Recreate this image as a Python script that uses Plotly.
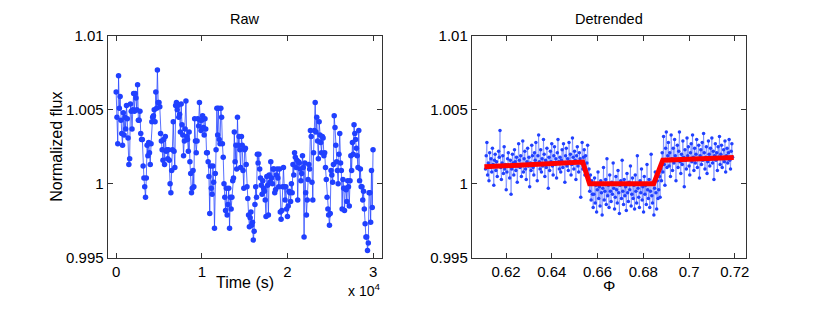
import numpy as np
import plotly.graph_objects as go

# ---------------- data ----------------
raw_flux = [
    1.0062, 1.0045, 1.0027, 1.0073, 1.0051, 1.0059, 1.0043, 1.0034, 1.0026, 1.0048,
    1.0033, 1.0045, 1.0037, 1.0053, 1.0044, 1.0031, 1.0013, 1.0017, 1.0054, 1.0049,
    1.0037, 1.0050, 1.0061, 1.0049, 1.0061, 1.0058, 1.0050, 1.0067, 1.0043, 1.0043,
    1.0049, 1.0034, 1.0030, 1.0030, 1.0012, 1.0004, 0.9998, 0.9991, 1.0004, 1.0026,
    1.0019, 1.0028, 1.0021, 1.0013, 1.0027, 1.0042, 1.0045, 1.0046, 1.0050, 1.0042,
    1.0062, 1.0051, 1.0077, 1.0055, 1.0055, 1.0052, 1.0034, 1.0029, 1.0023, 1.0016,
    1.0030, 1.0013, 1.0032, 1.0022, 1.0023, 1.0017, 1.0023, 1.0016, 1.0000, 0.9994,
    1.0009, 1.0023, 1.0042, 1.0022, 1.0011, 1.0053, 1.0055, 1.0050, 1.0053, 1.0045,
    1.0047, 1.0035, 1.0054, 1.0040, 1.0033, 1.0019, 1.0029, 1.0037, 1.0056, 1.0032,
    1.0030, 1.0022, 1.0035, 1.0015, 1.0007, 0.9994, 0.9997, 1.0009, 0.9998, 1.0044,
    1.0029, 1.0021, 1.0029, 1.0044, 1.0039, 1.0055, 1.0043, 1.0036, 1.0043, 1.0046,
    1.0038, 1.0033, 1.0044, 1.0037, 1.0021, 1.0021, 1.0015, 1.0005, 0.9980, 1.0012,
    0.9997, 0.9993, 1.0012, 1.0001, 0.9970, 1.0007, 1.0023, 1.0051, 1.0033, 1.0051,
    1.0030, 1.0027, 1.0051, 1.0045, 1.0027, 1.0018, 1.0000, 0.9991, 0.9982, 0.9997,
    0.9979, 0.9986, 0.9997, 0.9970, 0.9991, 0.9983, 0.9991, 1.0002, 1.0004, 1.0035,
    1.0015, 1.0026, 1.0010, 1.0045, 1.0026, 1.0032, 1.0023, 1.0011, 1.0032, 1.0026,
    1.0009, 0.9997, 1.0023, 1.0024, 1.0013, 0.9998, 0.9990, 0.9979, 0.9971, 0.9977,
    0.9981, 0.9972, 0.9974, 0.9962, 0.9968, 0.9986, 0.9998, 0.9991, 1.0020, 1.0014,
    1.0020, 1.0010, 1.0004, 0.9999, 0.9993, 1.0002, 0.9997, 0.9995, 0.9989, 0.9978,
    1.0005, 0.9999, 0.9979, 1.0006, 1.0001, 1.0015, 1.0004, 1.0000, 1.0010, 1.0010,
    0.9994, 0.9996, 1.0006, 1.0010, 1.0004, 0.9998, 1.0010, 0.9981, 0.9976, 0.9982,
    0.9998, 1.0011, 0.9998, 0.9989, 0.9998, 0.9983, 0.9978, 0.9985, 0.9995, 0.9994,
    0.9988, 1.0000, 0.9994, 1.0013, 1.0006, 1.0021, 1.0018, 1.0011, 1.0016, 0.9989,
    1.0015, 1.0014, 1.0010, 1.0002, 1.0007, 1.0019, 1.0011, 0.9964, 1.0014, 0.9994,
    0.9979, 0.9989, 1.0003, 1.0013, 1.0010, 1.0036, 1.0032, 1.0001, 0.9989, 1.0021,
    1.0036, 1.0055, 1.0035, 1.0045, 1.0029, 1.0017, 1.0042, 1.0033, 1.0028, 1.0021,
    1.0032, 1.0031, 1.0019, 1.0021, 1.0011, 1.0003, 0.9991, 0.9983, 0.9979, 0.9972,
    0.9980, 1.0009, 1.0006, 1.0001, 1.0013, 1.0046, 1.0038, 1.0026, 1.0015, 1.0009,
    1.0000, 1.0020, 1.0034, 1.0014, 1.0009, 0.9983, 1.0003, 0.9997, 0.9982, 0.9997,
    0.9996, 0.9988, 1.0002, 0.9998, 0.9985, 1.0002, 1.0019, 1.0009, 1.0028, 1.0020,
    1.0040, 1.0034, 1.0030, 1.0024, 1.0019, 1.0011, 1.0036, 1.0002, 1.0010, 0.9998,
    0.9998, 0.9989, 0.9995, 0.9983, 0.9973, 0.9964, 0.9964, 0.9955, 0.9960, 0.9994,
    0.9994, 0.9974, 1.0009, 0.9984, 1.0023,
]
raw_time = np.linspace(0, 30000, len(raw_flux))  # uniform cadence, seconds

det_flux = [
    # out of transit (before)
    1.0010, 1.0019, 1.0028, 1.0006, 1.0014, 1.0002, 1.0021, 1.0011, 1.0017, 1.0008,
    1.0024, 1.0013, 0.9999, 1.0016, 1.0020, 1.0009, 1.0015, 1.0005, 1.0012, 1.0022,
    1.0018, 1.0036, 1.0011, 1.0003, 1.0014, 1.0019, 1.0007, 1.0025, 1.0010, 1.0013,
    0.9996, 1.0008, 1.0017, 1.0021, 1.0012, 1.0004, 1.0016, 0.9993, 1.0010, 1.0020,
    1.0014, 1.0006, 1.0023, 1.0015, 1.0009, 1.0018, 1.0001, 1.0012, 1.0027, 1.0016,
    1.0011, 1.0019, 1.0005, 1.0013, 1.0029, 1.0008, 1.0017, 1.0022, 1.0010, 1.0003,
    1.0015, 1.0024, 1.0012, 1.0018, 0.9998, 1.0014, 1.0009, 1.0026, 1.0019, 1.0011,
    1.0006, 1.0021, 1.0016, 1.0028, 1.0013, 1.0002, 1.0019, 1.0033, 1.0015, 1.0010,
    1.0023, 1.0008, 1.0017, 1.0012, 1.0030, 1.0020, 1.0005, 1.0016, 1.0011, 1.0024,
    1.0014, 0.9997, 1.0018, 1.0009, 1.0022, 1.0015, 1.0027, 1.0012, 1.0006, 1.0019,
    1.0025, 1.0013, 1.0017, 1.0004, 1.0021, 1.0030, 1.0015, 1.0010, 1.0018, 1.0008,
    1.0016, 1.0023, 1.0011, 1.0027, 1.0014, 1.0001, 1.0019, 1.0024, 1.0012, 1.0017,
    1.0009, 1.0028, 1.0015, 1.0020, 1.0006, 1.0013, 1.0031, 1.0018, 1.0010, 1.0022,
    1.0016, 1.0003, 1.0019, 1.0025, 1.0012, 1.0008, 1.0021, 1.0017, 0.9991, 1.0014,
    1.0028, 1.0010, 1.0018, 1.0023, 1.0006,
    # ingress
    1.0019, 1.0008, 1.0014, 1.0026, 1.0003, 1.0010, 0.9995, 1.0006, 0.9989, 1.0002,
    0.9993, 0.9984,
    # in transit
    0.9993, 1.0004, 0.9987, 0.9999, 0.9981, 0.9996, 1.0008, 0.9990, 0.9998, 0.9985,
    1.0002, 0.9994, 0.9979, 0.9997, 1.0011, 0.9989, 0.9995, 1.0003, 0.9986, 1.0017,
    0.9992, 0.9999, 0.9984, 1.0006, 0.9995, 0.9988, 1.0001, 0.9993, 1.0014, 0.9997,
    0.9983, 0.9991, 1.0005, 0.9996, 0.9987, 1.0009, 0.9994, 0.9980, 0.9999, 1.0002,
    0.9990, 1.0016, 0.9995, 0.9986, 1.0003, 0.9992, 0.9998, 0.9982, 1.0007, 0.9994,
    0.9988, 1.0001, 0.9996, 1.0012, 0.9985, 0.9993, 1.0004, 0.9990, 0.9999, 0.9983,
    1.0006, 0.9995, 0.9987, 1.0019, 0.9997, 0.9991, 0.9984, 1.0002, 0.9994, 1.0010,
    0.9989, 0.9998, 0.9981, 1.0005, 0.9993, 0.9999, 0.9986, 1.0013, 0.9996, 0.9990,
    1.0003, 0.9984, 0.9995, 1.0020, 0.9992, 0.9987, 1.0001, 0.9979, 0.9997, 1.0008,
    0.9994, 0.9983, 1.0002, 0.9990,
    # egress
    0.9996, 1.0005, 0.9991, 1.0010, 1.0002, 1.0021, 1.0008, 1.0032, 1.0013, 0.9999,
    1.0024, 1.0035, 1.0011, 1.0019,
    # out of transit (after)
    1.0028, 1.0012, 1.0021, 1.0005, 1.0033, 1.0017, 1.0009, 1.0024, 1.0014, 1.0030,
    1.0019, 1.0002, 1.0016, 1.0026, 1.0011, 1.0022, 1.0035, 1.0015, 1.0007, 1.0020,
    1.0013, 1.0029, 1.0018, 0.9998, 1.0023, 1.0016, 1.0010, 1.0031, 1.0019, 1.0025,
    1.0012, 1.0006, 1.0021, 1.0027, 1.0015, 1.0033, 1.0018, 1.0009, 1.0024, 1.0014,
    1.0020, 1.0030, 1.0011, 1.0017, 1.0026, 1.0004, 1.0019, 1.0023, 1.0013, 1.0028,
    1.0016, 1.0034, 1.0021, 1.0010, 1.0018, 1.0025, 1.0007, 1.0015, 1.0029, 1.0020,
    1.0012, 1.0024, 1.0017, 1.0031, 1.0014, 1.0022, 1.0003, 1.0019, 1.0027, 1.0016,
    1.0021, 1.0009, 1.0025, 1.0018, 1.0032, 1.0013, 1.0020, 1.0026, 1.0011, 1.0017,
    1.0023, 1.0015, 1.0029, 1.0008, 1.0019, 1.0024, 1.0014, 1.0021, 1.0030, 1.0016,
    1.0010, 1.0022, 1.0027, 1.0018,
]
det_phase = np.linspace(0.611, 0.719, len(det_flux))

model_phase = [0.6105, 0.6535, 0.6565, 0.6845, 0.6885, 0.7195]
model_flux = [1.00115, 1.00147, 1.00000, 1.00000, 1.00160, 1.00178]

y_ticks = [0.995, 1.0, 1.005, 1.01]
y_ticktext = ["0.995", "1", "1.005", "1.01"]
raw_xticks = [0, 10000, 20000, 30000]
raw_xticktext = ["0", "1", "2", "3"]
det_xticks = [0.62, 0.64, 0.66, 0.68, 0.70, 0.72]
det_xticktext = ["0.62", "0.64", "0.66", "0.68", "0.7", "0.72"]

# ---------------- figure ----------------
W, H = 830, 309
FONT = "Liberation Sans, Arial, Helvetica, sans-serif"
BLUE = "rgb(32,64,255)"
LINE_BLUE = "rgba(32,64,255,0.75)"
LIGHT_BLUE = "rgba(32,64,255,0.4)"

fig = go.Figure()
fig.add_trace(go.Scatter(
    x=raw_time, y=raw_flux, mode="lines+markers",
    line=dict(color=LINE_BLUE, width=1),
    marker=dict(color=BLUE, size=5.5),
    xaxis="x", yaxis="y", showlegend=False))
fig.add_trace(go.Scatter(
    x=det_phase, y=det_flux, mode="lines+markers",
    line=dict(color=LIGHT_BLUE, width=1),
    marker=dict(color=BLUE, size=3.5),
    xaxis="x2", yaxis="y2", showlegend=False))
fig.add_trace(go.Scatter(
    x=model_phase, y=model_flux, mode="lines",
    line=dict(color="rgb(255,0,0)", width=5),
    xaxis="x2", yaxis="y2", showlegend=False))

y0, y1 = 1 - 263.3 / H, 1 - 28.4 / H
axis_common = dict(
    showline=True, linecolor="#333333", linewidth=1, mirror="ticks",
    ticks="inside", ticklen=5, tickcolor="#333333", showgrid=False,
    zeroline=False, tickfont=dict(family=FONT, size=15, color="black"),
)

fig.update_layout(
    width=W, height=H, autosize=False,
    margin=dict(l=0, r=0, t=0, b=0, pad=0),
    paper_bgcolor="white", plot_bgcolor="white",
    font=dict(family=FONT, color="black"),
    xaxis=dict(domain=[108 / W, 383 / W], range=[-1000, 31000],
               tickvals=raw_xticks, ticktext=raw_xticktext, anchor="y",
               **axis_common),
    yaxis=dict(domain=[y0, y1], range=[0.995, 1.01],
               tickvals=y_ticks, ticktext=y_ticktext, anchor="x",
               **axis_common),
    xaxis2=dict(domain=[473.5 / W, 749 / W], range=[0.605, 0.725],
                tickvals=det_xticks, ticktext=det_xticktext, anchor="y2",
                **axis_common),
    yaxis2=dict(domain=[y0, y1], range=[0.995, 1.01],
                tickvals=y_ticks, ticktext=y_ticktext, anchor="x2",
                **axis_common),
)

ann = [
    dict(text="Raw", x=245.5 / W, y=1 - 10.5 / H, size=14.5),
    dict(text="Detrended", x=611 / W, y=1 - 10.5 / H, size=14.5),
    dict(text="Time (s)", x=245.5 / W, y=1 - 289 / H, size=16),
    dict(text="Φ", x=611 / W, y=1 - 293 / H, size=15.5),
]
for a in ann:
    fig.add_annotation(text=a["text"], x=a["x"], y=a["y"], xref="paper", yref="paper",
                       showarrow=False, xanchor="center", yanchor="middle",
                       font=dict(family=FONT, size=a["size"], color="black"))
fig.add_annotation(text="Normalized flux", x=57 / W, y=1 - 146 / H, xref="paper",
                   yref="paper", showarrow=False, textangle=-90,
                   xanchor="center", yanchor="middle",
                   font=dict(family=FONT, size=16, color="black"))
fig.add_annotation(text="x 10<sup>4</sup>", x=383 / W, y=1 - 297 / H, xref="paper",
                   yref="paper", showarrow=False, xanchor="right", yanchor="middle",
                   font=dict(family=FONT, size=14, color="black"))

fig.write_html(
    "out.html",
    config={"displayModeBar": False},
    post_script=(
        "var d=document.getElementById('{plot_id}');"
        "d.style.position='fixed';d.style.top='0px';d.style.left='0px';"
        "document.body.style.margin='0';document.body.style.overflow='hidden';"
        "document.documentElement.style.overflow='hidden';"
    ),
)
